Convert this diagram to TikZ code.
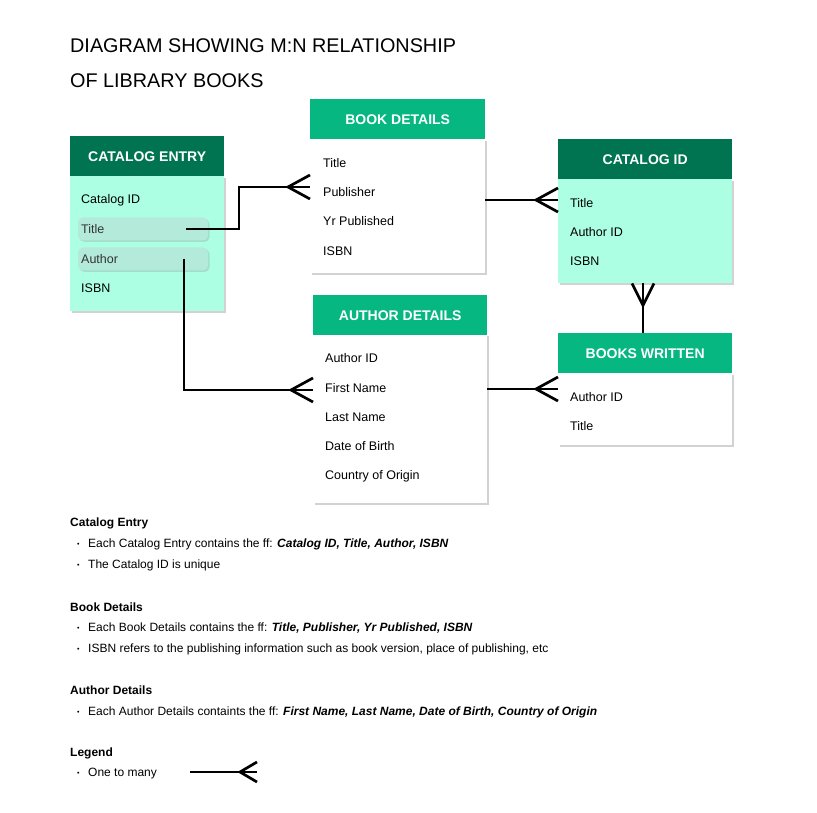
\documentclass[tikz,border=0pt]{standalone}
\usepackage{fontspec}
\setmainfont{Liberation Sans}
\usetikzlibrary{positioning,shadows,calc}
\definecolor{darkgrn}{RGB}{0,116,80}
\definecolor{midgrn}{RGB}{6,183,129}
\definecolor{mint}{RGB}{173,255,228}
\definecolor{hilite}{RGB}{180,234,218}
\newcommand{\blt}{\makebox[11pt][l]{\fontsize{7}{8}\selectfont\raisebox{1pt}{•}}}
\tikzset{
  hdr/.style={fill=#1,text=white,font=\bfseries\fontsize{14}{16}\selectfont,
    anchor=north west,inner sep=0,minimum height=40},
  body/.style={fill=#1,anchor=north west,inner sep=0,
    drop shadow={shadow xshift=2pt,shadow yshift=-2pt,opacity=.35,fill=gray}},
  row/.style={anchor=west,inner sep=0,font=\fontsize{12.5}{14}\selectfont},
  hl/.style={fill=hilite,rounded corners=5pt,inner sep=0,minimum width=130,minimum height=23,
    drop shadow={shadow xshift=1.5pt,shadow yshift=-1.5pt,opacity=.25,fill=gray}},
  conn/.style={line width=2.7pt,line join=miter},
  note/.style={anchor=west,inner sep=0,font=\fontsize{12}{14}\selectfont},
}
\begin{document}
\begin{tikzpicture}[x=1pt,y=-1pt]
\useasboundingbox[fill=white] (0,0) rectangle (817,813);

% title
\node[anchor=west,inner sep=0,font=\fontsize{19.8}{24}\selectfont] (ttl1) at (70,46) {DIAGRAM SHOWING M:N RELATIONSHIP};
\node[anchor=west,inner sep=0,font=\fontsize{19.8}{24}\selectfont] (ttl2) at (70,81) {OF LIBRARY BOOKS};

% catalog entry
\node[body=mint,minimum width=154,minimum height=135] (ceB) at (70,176) {};
\node[hdr=darkgrn,minimum width=154] (ceH) at (70,136) {CATALOG ENTRY};
\node[hl] (hlT) at (143,229) {};
\node[hl] (hlA) at (143,259) {};
\node[row] (ceId) at (81,200) {Catalog ID};
\node[row,text=black!80] (ceT) at (81,229) {Title};
\node[row,text=black!80] (ceA) at (81,259) {Author};
\node[row] (ceIs) at (81,288) {ISBN};

% book details
\node[body=white,minimum width=175,minimum height=134] (bdB) at (310,139) {};
\node[hdr=midgrn,minimum width=175] (bdH) at (310,99) {BOOK DETAILS};
\node[row] (bdT) at (323,163) {Title};
\node[row] (bdP) at (323,192) {Publisher};
\node[row] (bdY) at (323,221) {Yr Published};
\node[row] (bdI) at (323,251) {ISBN};

% catalog id
\node[body=mint,minimum width=174,minimum height=104] (ciB) at (558,179) {};
\node[hdr=darkgrn,minimum width=174] (ciH) at (558,139) {CATALOG ID};
\node[row] (ciT) at (570,203) {Title};
\node[row] (ciA) at (570,232) {Author ID};
\node[row] (ciI) at (570,261) {ISBN};

% author details
\node[body=white,minimum width=174,minimum height=169] (adB) at (313,334) {};
\node[hdr=midgrn,minimum width=174] (adH) at (313,295) {AUTHOR DETAILS};
\node[row] (adId) at (325,358) {Author ID};
\node[row] (adF) at (325,388) {First Name};
\node[row] (adL) at (325,417) {Last Name};
\node[row] (adD) at (325,446) {Date of Birth};
\node[row] (adC) at (325,476) {Country of Origin};

% books written
\node[body=white,minimum width=174,minimum height=72] (bwB) at (558,373) {};
\node[hdr=midgrn,minimum width=174] (bwH) at (558,333) {BOOKS WRITTEN};
\node[row] (bwA) at (570,397) {Author ID};
\node[row] (bwT) at (570,426) {Title};

% connectors
\coordinate (ta) at (186,229);
\coordinate (aa) at (184,259);
\coordinate (bdIn) at (bdB.west|-0,187);
\coordinate (ciIn) at (ciB.west|-0,200);
\coordinate (adIn) at (adB.west|-0,390);
\coordinate (bwIn) at (bwB.west|-0,389);
\draw[conn] (ta) -- ++(53,0) |- (bdIn);
\draw[conn] (aa) |- (adIn);
\draw[conn] (bdB.east|-ciIn) -- (ciIn);
\draw[conn] (adB.east|-bwIn) -- (bwIn);
\draw[conn] (ciB.south-|643,0) -- (bwH.north-|643,0);
\foreach \p in {bdIn,ciIn,adIn,bwIn}
  \draw[conn] ($(\p)+(0,-12)$) -- ($(\p)+(-22,0)$) -- ($(\p)+(0,12)$);
\draw[conn] ($(ciB.south-|643,0)+(-11,0)$) -- ($(ciB.south-|643,0)+(0,22)$) -- ($(ciB.south-|643,0)+(11,0)$);

% notes
\node[note,font=\bfseries\fontsize{12}{14}\selectfont] (n1) at (70,523) {Catalog Entry};
\node[note] (n1a) at (77,544) {\blt Each Catalog Entry contains the ff: \textbf{\textit{Catalog ID, Title, Author, ISBN}}};
\node[note] (n1b) at (77,565) {\blt The Catalog ID is unique};
\node[note,font=\bfseries\fontsize{12}{14}\selectfont] (n2) at (70,607) {Book Details};
\node[note] (n2a) at (77,628) {\blt Each Book Details contains the ff: \textbf{\textit{Title, Publisher, Yr Published, ISBN}}};
\node[note] (n2b) at (77,649) {\blt ISBN refers to the publishing information such as book version, place of publishing, etc};
\node[note,font=\bfseries\fontsize{12}{14}\selectfont] (n3) at (70,690) {Author Details};
\node[note] (n3a) at (77,712) {\blt Each Author Details containts the ff: \textbf{\textit{First Name, Last Name, Date of Birth, Country of Origin}}};
\node[note,font=\bfseries\fontsize{12}{14}\selectfont] (n4) at (70,753) {Legend};
\node[note] (n4a) at (77,774) {\blt One to many};

% legend
\coordinate (lgA) at (190,772);
\coordinate (lgIn) at (257,772);
\draw[conn] (lgA) -- (lgIn);
\draw[conn] ($(lgIn)+(0,-10)$) -- ($(lgIn)+(-17,0)$) -- ($(lgIn)+(0,10)$);
\end{tikzpicture}
\end{document}
